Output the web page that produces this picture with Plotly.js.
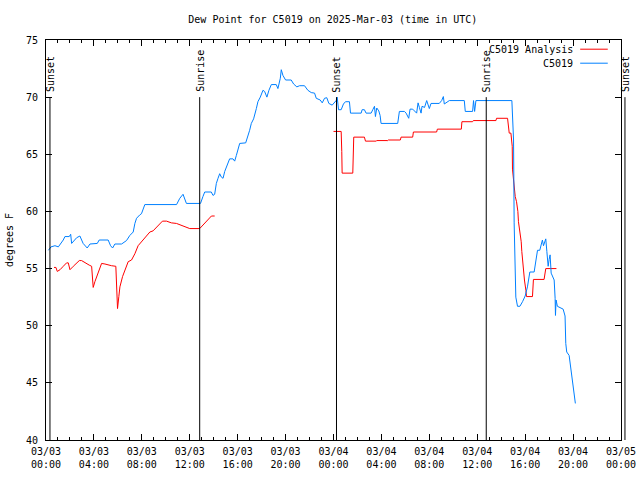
<!DOCTYPE html>
<html>
<head>
<meta charset="utf-8">
<script src="https://cdn.plot.ly/plotly-3.0.1.min.js"></script>
<style>html,body{margin:0;padding:0;background:#fff;}#chart{width:640px;height:480px;}</style>
</head>
<body>
<div id="chart"></div>
<script>
// hours since 2025-03-03 00:00 UTC
const blueHours = [0.2,0.42,0.75,1.03,1.44,1.58,1.94,2.06,2.14,2.56,2.83,3.1,3.44,3.67,4.28,4.44,5.19,5.39,5.56,5.75,6.31,6.72,7.0,7.28,7.42,7.56,7.83,7.97,8.25,10.9,11.17,11.44,11.72,12.9,13.1,13.25,13.8,13.94,14.08,14.22,14.36,14.5,14.64,14.78,14.92,15.19,15.33,15.61,15.75,15.89,16.03,16.17,16.67,16.86,17.0,17.14,17.33,17.56,17.69,17.89,18.11,18.25,18.44,18.61,18.81,19.22,19.36,19.56,19.64,19.78,20.0,20.47,20.67,20.94,21.17,21.58,21.86,22.14,22.42,22.56,22.89,23.06,23.25,23.44,23.61,23.89,24.22,24.31,24.42,24.64,24.83,25.0,25.33,25.42,26.31,26.39,26.58,26.72,27.14,27.28,27.42,27.5,27.61,27.78,27.89,27.97,29.36,29.5,29.92,30.06,30.28,30.39,30.61,30.94,31.06,31.17,31.31,31.39,31.6,31.78,32.0,32.14,32.83,33.03,33.17,33.25,33.39,33.67,34.92,35.0,35.61,35.69,35.78,35.89,38.89,39.03,39.08,39.14,39.22,39.36,39.56,39.78,40.0,40.19,40.33,40.39,40.75,40.81,41.03,41.22,41.31,41.44,41.53,41.62,41.72,41.81,41.92,42.0,42.08,42.17,42.33,42.42,42.5,42.53,42.58,42.69,43.17,43.33,43.39,43.47,43.67,43.81,43.89,44.0,44.08,44.19];
const blueValues = [56.6,56.9,57.0,56.9,57.5,57.8,57.8,58.0,57.2,57.7,57.85,57.2,56.8,57.15,57.2,57.5,57.5,57.0,56.8,57.15,57.15,57.45,57.9,58.2,58.95,59.4,59.7,59.8,60.6,60.6,61.15,61.5,60.7,60.7,61.3,61.7,61.7,61.4,61.5,62.45,62.9,63.3,63.0,62.9,63.5,64.2,64.6,64.6,64.4,64.9,65.5,65.95,66.0,66.55,67.1,67.7,68.1,69.0,69.6,70.0,70.6,70.5,70.0,70.6,71.1,71.1,70.75,71.65,72.4,71.9,71.5,71.5,71.15,70.9,71.0,71.0,70.6,70.4,70.35,69.9,69.75,69.5,69.9,69.95,69.45,69.3,69.7,70.0,68.9,68.9,69.4,69.6,69.6,68.6,68.6,68.9,68.9,68.6,68.6,68.9,69.2,68.3,69.05,68.8,68.4,67.7,67.7,68.75,68.75,68.6,68.15,68.95,68.95,68.6,69.5,69.1,68.6,69.2,69.1,69.7,69.0,69.45,69.45,69.7,70.05,69.4,69.5,69.7,69.7,68.75,68.75,69.7,68.75,69.7,69.7,66.25,59.0,54.0,52.5,51.7,51.7,52.1,52.6,53.4,54.3,54.7,54.7,55.15,56.6,56.6,57.05,57.5,57.0,57.4,57.6,56.5,55.2,55.8,56.2,54.6,54.3,54.0,52.4,50.9,52.25,51.7,51.45,50.85,48.45,47.7,47.4,46.25,45.5,44.8,44.1,43.2];

const redHours = [0.67,0.83,0.94,1.17,1.44,1.72,1.86,2.0,2.28,2.56,2.78,2.97,3.25,3.61,3.81,3.89,3.94,4.08,4.28,4.5,4.64,4.92,5.19,5.47,5.83,5.89,5.97,6.08,6.17,6.39,6.67,6.86,7.14,7.42,7.69,7.97,8.33,8.67,8.94,9.36,9.72,10.06,10.47,10.89,11.31,11.72,12.0,12.83,13.11,13.53,13.81,14.08,
  14.1,
  24.0,24.64,24.69,24.72,25.61,25.67,25.69,26.58,26.67,27.56,27.61,28.53,28.58,29.58,29.64,30.61,30.67,32.61,32.67,34.67,34.72,35.61,35.67,37.56,37.61,38.53,38.58,38.67,38.81,38.86,38.92,38.94,39.08,39.17,39.28,39.39,39.44,39.56,39.67,39.72,39.78,39.86,39.94,40.06,40.11,40.61,40.69,41.58,41.67,41.72,42.61];
const redValues = [55.1,55.1,54.75,54.9,55.2,55.5,55.5,54.9,55.2,55.5,55.7,55.7,55.5,55.3,55.2,54.35,53.35,53.85,54.4,55.0,55.45,55.4,55.3,55.25,55.2,53.4,51.5,52.55,53.4,54.3,55.15,55.6,55.75,56.3,57.0,57.35,57.8,58.2,58.3,58.8,59.15,59.15,59.0,58.95,58.8,58.65,58.5,58.5,58.8,59.25,59.6,59.6,
  null,
  67.0,67.0,65.25,63.35,63.35,64.95,66.5,66.5,66.15,66.15,66.2,66.2,66.25,66.25,66.5,66.5,66.95,66.95,67.2,67.2,67.85,67.85,67.95,67.95,68.15,68.15,67.4,66.85,66.85,66.25,65.7,63.7,61.95,61.3,60.85,60.0,59.1,58.2,57.35,56.5,55.6,54.75,54.0,53.1,52.55,52.55,54.05,54.05,54.6,55.0,55.0];

const sunHours = [0.33,12.83,24.25,36.75,48.33];
const sunLabels = ["Sunset","Sunrise","Sunset","Sunrise","Sunset"];
const sunLineTop = 70;

const seriesNames = ["C5019 Analysis","C5019"];
const seriesColors = ["#ff0000","#0080ff"];

const startMs = Date.UTC(2025,2,3);
const spanHours = 48;
function toDate(h){ return new Date(startMs + h*3600000).toISOString().replace('T',' ').slice(0,19); }

const FONT = {family:"DejaVu Sans Mono, monospace", size:10, color:"#000"};
const yMin = 40, yMax = 75;

const traces = [
  {x: redHours.map(h => h===null?null:toDate(h)), y: redValues, type:'scatter', mode:'lines', name:seriesNames[0],
   line:{color:seriesColors[0], width:1}, connectgaps:false, hoverinfo:'skip'},
  {x: blueHours.map(toDate), y: blueValues, type:'scatter', mode:'lines', name:seriesNames[1],
   line:{color:seriesColors[1], width:1}, hoverinfo:'skip'}
];

const shapes = [];
const annotations = [];
const topFrac = (sunLineTop - yMin)/(yMax - yMin);
sunHours.forEach((h,i) => {
  const fx = h/spanHours;
  shapes.push({type:'line', xref:'paper', yref:'paper', x0:fx, x1:fx, y0:0, y1:topFrac, line:{color:'#000', width:1}});
  annotations.push({xref:'paper', yref:'paper', x:fx, y:topFrac, yshift:3, xanchor:'center', yanchor:'bottom',
    text:sunLabels[i], textangle:-90, showarrow:false, font:FONT});
});
// legend (text right-aligned, sample line to the right)
const legY = [0.977, 0.942];
seriesNames.forEach((n,i) => {
  annotations.push({xref:'paper', yref:'paper', x:0.92, y:legY[i], xanchor:'right', yanchor:'middle', text:n, showarrow:false, font:FONT});
  shapes.push({type:'line', xref:'paper', yref:'paper', x0:0.929, x1:0.977, y0:legY[i], y1:legY[i], line:{color:seriesColors[i], width:1}});
});

const layout = {
  width:640, height:480,
  margin:{l:46, r:19, t:40, b:40, pad:0},
  paper_bgcolor:'#fff', plot_bgcolor:'#fff',
  showlegend:false,
  font:FONT,
  title:{text:"Dew Point for C5019 on 2025-Mar-03 (time in UTC)", font:FONT, x:0.52, xanchor:'center', y:0.96, yanchor:'middle'},
  xaxis:{type:'date', range:[toDate(0), toDate(spanHours)], tick0:toDate(0), dtick:4*3600000,
    tickformat:'%m/%d<br>%H:%M', ticks:'inside', ticklen:6, tickcolor:'#000', tickfont:FONT, ticklabelstandoff:2,
    showline:true, linecolor:'#000', linewidth:1, mirror:'allticks', showgrid:false, zeroline:false,
    minor:{dtick:3600000, ticks:'inside', ticklen:3, tickcolor:'#000', showgrid:false}},
  yaxis:{range:[yMin,yMax], dtick:5, ticks:'inside', ticklen:6, tickcolor:'#000', tickfont:FONT, ticklabelstandoff:5,
    showline:true, linecolor:'#000', linewidth:1, mirror:'allticks', showgrid:false, zeroline:false,
    title:{text:'degrees F', font:FONT, standoff:10}},
  shapes:shapes, annotations:annotations
};

Plotly.newPlot('chart', traces, layout, {staticPlot:true, displayModeBar:false});
</script>
</body>
</html>
